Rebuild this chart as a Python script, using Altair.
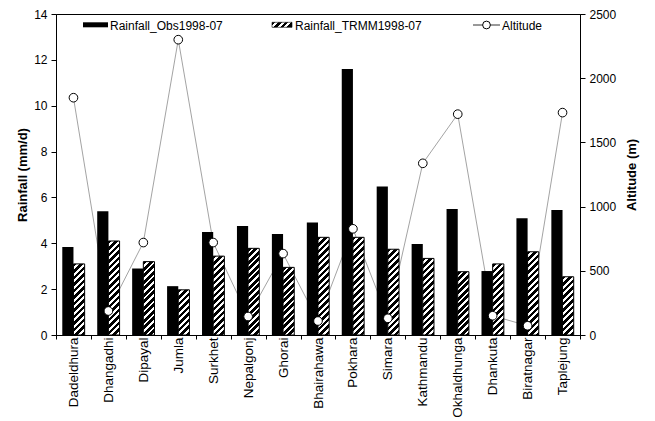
import altair as alt
import pandas as pd

# ---------------- data ----------------
stations = ["Dadeldhura", "Dhangadhi", "Dipayal", "Jumla", "Surkhet", "Nepalgonj",
            "Ghorai", "Bhairahawa", "Pokhara", "Simara", "Kathmandu", "Okhaldhunga",
            "Dhankuta", "Biratnagar", "Taplejung"]
rain_obs = [3.84, 5.40, 2.90, 2.13, 4.49, 4.75, 4.40, 4.91, 11.60, 6.48, 3.97, 5.49, 2.79, 5.09, 5.45]
rain_trmm = [3.10, 4.10, 3.20, 1.97, 3.44, 3.78, 2.95, 4.26, 4.26, 3.74, 3.34, 2.76, 3.10, 3.63, 2.54]
altitude = [1848, 187, 720, 2300, 720, 144, 634, 109, 827, 130, 1337, 1720, 150, 72, 1732]
rain_ticks = [0, 2, 4, 6, 8, 10, 12, 14]
alt_ticks = [0, 500, 1000, 1500, 2000, 2500]
legend_labels = ["Rainfall_Obs1998-07", "Rainfall_TRMM1998-07", "Altitude"]

# ---------------- layout / style ----------------
W, H = 524, 321
RAIN_MAX, ALT_MAX = 14, 2500
FONT = "Liberation Sans"
XOFF_PAD = 0.5625
BAR_W = (W / len(stations)) / (2 + 2 * XOFF_PAD)


def hatch(w, h, period=6.5, black=0.55):
    """Diagonal '/' hatch as an SVG bounding-box linear gradient."""
    D = w + h * h / w
    stops = []
    k = 0
    while True:
        a = k * period / D
        b = (k + black) * period / D
        c = (k + 1) * period / D
        if a >= 1:
            break
        stops.append((a, "black"))
        stops.append((min(b, 1.0), "black"))
        if b < 1:
            stops.append((b, "white"))
            stops.append((min(c, 1.0), "white"))
        k += 1
    return alt.LinearGradient(
        gradient="linear",
        stops=[alt.GradientStop(offset=round(o, 6), color=c) for o, c in stops],
        x1=0, y1=0, x2=1, y2=h / w,
    )


df = pd.DataFrame({"station": stations, "obs": rain_obs, "trmm": rain_trmm,
                   "altitude": altitude})
df["sObs"] = "Obs"
df["sTRMM"] = "TRMM"

x_enc = alt.X(
    "station:N",
    sort=None,
    scale=alt.Scale(domain=stations, paddingInner=0, paddingOuter=0),
    axis=alt.Axis(title=None, labelAngle=-90, labelAlign="right", labelBaseline="middle",
                  labelFontSize=13.5, labelFont=FONT, labelColor="black",
                  tickBand="extent", tickSize=4, tickColor="black",
                  domainColor="black", labelPadding=-2),
)
xoff_scale = alt.Scale(domain=["Obs", "TRMM"], paddingInner=0, paddingOuter=XOFF_PAD)
rain_scale = alt.Scale(domain=[0, RAIN_MAX], nice=False, zero=True)
alt_scale = alt.Scale(domain=[0, ALT_MAX], nice=False, zero=True)

left_axis = alt.Axis(orient="left", values=rain_ticks, title="Rainfall (mm/d)",
                     titleFontWeight="bold", titleFontSize=13, titleFont=FONT,
                     titleColor="black", titlePadding=4,
                     labelFontSize=12, labelFont=FONT, labelColor="black",
                     tickSize=5, tickColor="black", domainColor="black", labelPadding=4)
right_axis = alt.Axis(orient="right", values=alt_ticks, format="d", title="Altitude (m)",
                      titleAngle=270, titleBaseline="top", titleFontWeight="bold",
                      titleFontSize=13, titleFont=FONT, titleColor="black", titlePadding=10,
                      labelFontSize=12, labelFont=FONT, labelColor="black",
                      tickSize=5, tickColor="black", domainColor="black", labelPadding=4)

line = alt.Chart(df).mark_line(color="#8c8c8c", strokeWidth=0.8).encode(
    x=x_enc,
    y=alt.Y("altitude:Q", scale=alt_scale, axis=right_axis),
)

obs_bars = alt.Chart(df).mark_bar(color="black").encode(
    x=x_enc,
    xOffset=alt.XOffset("sObs:N", scale=xoff_scale),
    y=alt.Y("obs:Q", scale=rain_scale, axis=left_axis),
)

trmm_layers = []
for i, v in enumerate(rain_trmm):
    h_px = v * H / RAIN_MAX
    trmm_layers.append(
        alt.Chart(df.iloc[[i]]).mark_bar(fill=hatch(BAR_W, h_px), stroke="black",
                                         strokeWidth=1).encode(
            x=x_enc,
            xOffset=alt.XOffset("sTRMM:N", scale=xoff_scale),
            y=alt.Y("trmm:Q", scale=rain_scale, axis=None),
        )
    )

points = alt.Chart(df).mark_point(shape="circle", filled=True, fill="white", stroke="black",
                                  strokeWidth=1, size=75, opacity=1).encode(
    x=x_enc,
    y=alt.Y("altitude:Q", scale=alt_scale, axis=None),
)

# ---------------- in-plot legend ----------------
one = pd.DataFrame({"a": [0]})
leg = []
leg.append(alt.Chart(one).mark_rect(color="black").encode(
    x=alt.value(27), x2=alt.value(52), y=alt.value(8.3), y2=alt.value(13.3)))
leg.append(alt.Chart(one).mark_rect(fill=hatch(20, 5, period=6.5), stroke="black",
                                    strokeWidth=0.6).encode(
    x=alt.value(216), x2=alt.value(236), y=alt.value(8.3), y2=alt.value(13.3)))
leg.append(alt.Chart(one).mark_rule(color="#333333", strokeWidth=1).encode(
    x=alt.value(417), x2=alt.value(444), y=alt.value(11)))
leg.append(alt.Chart(one).mark_point(shape="circle", filled=True, fill="white",
                                     stroke="black", strokeWidth=1, size=60,
                                     opacity=1).encode(
    x=alt.value(430.5), y=alt.value(11)))
for xpos, label in zip([54, 239, 446], legend_labels):
    leg.append(alt.Chart(one).mark_text(text=label, align="left", baseline="alphabetic",
                                        font=FONT, fontSize=12, color="black").encode(
        x=alt.value(xpos), y=alt.value(15.5)))

chart = alt.layer(line, obs_bars, *trmm_layers, points, *leg).resolve_scale(
    y="independent"
).properties(
    width=W, height=H,
    autosize=alt.AutoSizeParams(type="none"),
    padding={"left": 48, "top": 6, "right": 67, "bottom": 84},
    background="white",
).configure_view(stroke="black", strokeWidth=1).configure_axis(grid=False)

chart.save("out.html", embed_options={"renderer": "svg", "actions": False})
